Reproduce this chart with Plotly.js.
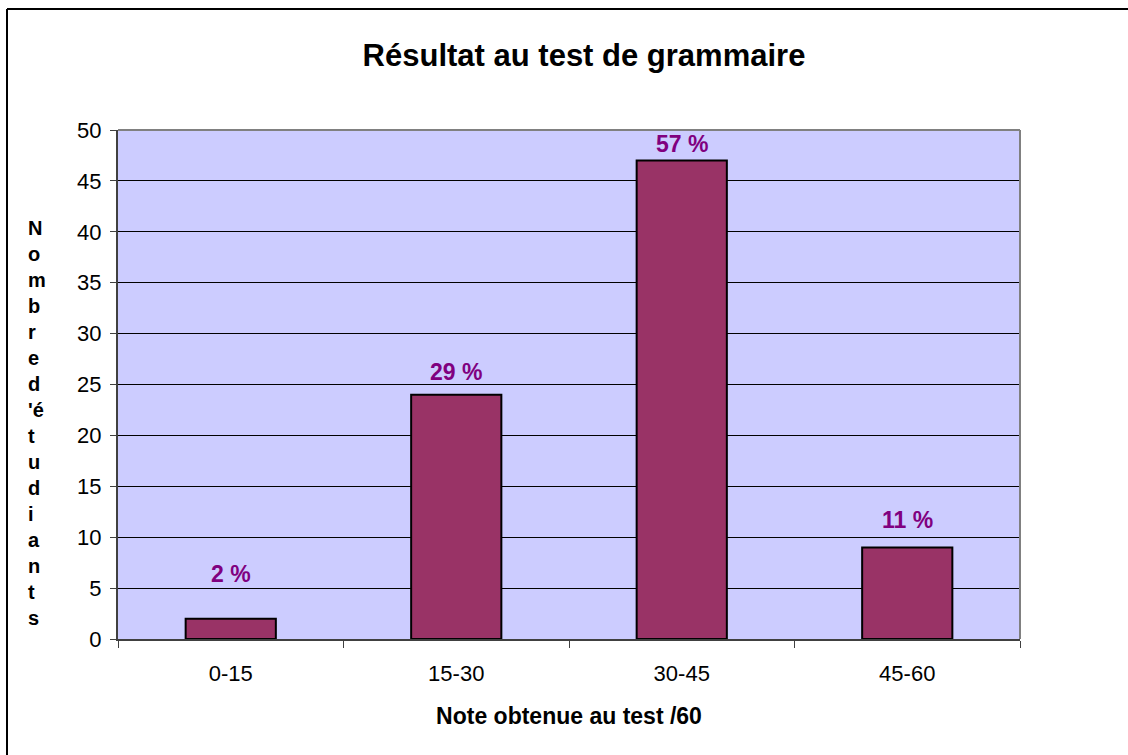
<!DOCTYPE html>
<html>
<head>
<meta charset="utf-8">
<script src="https://cdn.plot.ly/plotly-3.0.1.min.js"></script>
<style>
  html, body { margin: 0; padding: 0; background: #ffffff; }
  #chart { width: 1128px; height: 755px; }
</style>
</head>
<body>
<div id="chart"></div>
<script>
// ---- data ----
var categories = ["0-15", "15-30", "30-45", "45-60"];
var counts = [2, 24, 47, 9];
var percentLabels = ["2 %", "29 %", "57 %", "11 %"];
var chartTitle = "Résultat au test de grammaire";
var xTitle = "Note obtenue au test /60";
var yTitleLetters = ["N", "o", "m", "b", "r", "e", "d", "'é", "t", "u", "d", "i", "a", "n", "t", "s"];

// ---- layout helpers (pixel geometry of the plot area) ----
var W = 1128, H = 755;
var L = 118, R = 1020, T = 130, B = 639;
function px2x(px) { return (px - L) / (R - L); }
function py2y(py) { return (B - py) / (B - T); }

var labelLift = [45, 23, 17, 27];
var font = "Arial, 'Liberation Sans', sans-serif";

var annotations = categories.map(function (c, i) {
  return {
    x: c, y: counts[i], xref: "x", yref: "y",
    text: "<b>" + percentLabels[i] + "</b>",
    showarrow: false, yanchor: "middle", yshift: labelLift[i],
    font: { family: font, size: 23, color: "#800080" }
  };
});

annotations.push({
  xref: "paper", yref: "paper",
  x: px2x(26), y: py2y(423), xanchor: "left", yanchor: "middle",
  align: "left", showarrow: false,
  text: "<b>" + yTitleLetters.join("<br>") + "</b>",
  font: { family: font, size: 20, color: "#000000" }
});

var trace = {
  type: "bar",
  x: categories,
  y: counts,
  marker: { color: "#993366", line: { color: "#000000", width: 2 } },
  hoverinfo: "x+y"
};

var layout = {
  width: W, height: H,
  margin: { l: L, r: W - R, t: T, b: H - B, pad: 0 },
  paper_bgcolor: "#ffffff",
  plot_bgcolor: "#ccccff",
  showlegend: false,
  bargap: 0.6,
  title: {
    text: "<b>" + chartTitle + "</b>",
    x: 584 / W, xanchor: "center",
    y: 1 - 55 / H, yanchor: "middle",
    font: { family: font, size: 31, color: "#000000" }
  },
  xaxis: {
    type: "category",
    tickson: "boundaries",
    ticks: "outside", ticklen: 7, tickcolor: "#404040", tickwidth: 1,
    showline: true, linecolor: "#404040", linewidth: 2, mirror: false,
    showgrid: false,
    ticklabelstandoff: 14,
    tickfont: { family: font, size: 22, color: "#000000" },
    title: { text: "<b>" + xTitle + "</b>", standoff: 22,
             font: { family: font, size: 23, color: "#000000" } }
  },
  yaxis: {
    range: [0, 50], dtick: 5, tick0: 0,
    ticks: "outside", ticklen: 6, tickcolor: "#404040", tickwidth: 1,
    showline: true, linecolor: "#404040", linewidth: 2,
    showgrid: true, gridcolor: "#000000", gridwidth: 1,
    zeroline: false,
    tickfont: { family: font, size: 22, color: "#000000" },
    ticklabelstandoff: 4
  },
  shapes: [
    { type: "line", xref: "paper", yref: "paper", x0: 1, x1: 1, y0: 0, y1: 1,
      line: { color: "#808080", width: 2 } },
    { type: "line", xref: "paper", yref: "paper", x0: 0, x1: 1, y0: 1, y1: 1,
      line: { color: "#808080", width: 2 } },
    { type: "line", xref: "paper", yref: "paper", x0: px2x(7), x1: px2x(7), y0: py2y(9), y1: py2y(760),
      line: { color: "#000000", width: 2 } },
    { type: "line", xref: "paper", yref: "paper", x0: px2x(7), x1: px2x(1130), y0: py2y(9), y1: py2y(9),
      line: { color: "#000000", width: 2 } }
  ],
  annotations: annotations
};

Plotly.newPlot("chart", [trace], layout, { displayModeBar: false, staticPlot: true });
</script>
</body>
</html>
